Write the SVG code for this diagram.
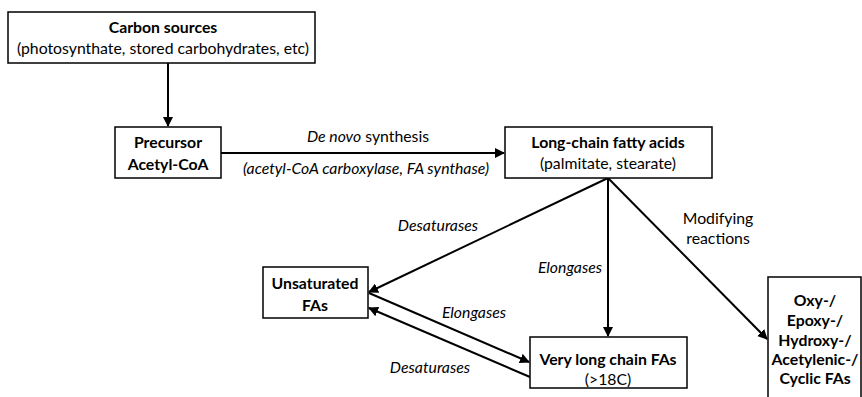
<svg xmlns="http://www.w3.org/2000/svg" width="862" height="397" viewBox="0 0 862 397">
<style>
text{font-family:Lato,"Liberation Sans",sans-serif;font-size:15.8px;fill:#000;text-anchor:middle}
.b{font-weight:bold}
.i{font-style:italic}
.box{fill:#fff;stroke:#000;stroke-width:1.5}
.c{stroke:#000;stroke-width:2;fill:none;marker-end:url(#ah)}
</style>
<defs>
<marker id="ah" viewBox="0 0 10 10" refX="9" refY="5" markerWidth="5" markerHeight="5" orient="auto" markerUnits="strokeWidth">
<path d="M0,0 L10,5 L0,10 z" fill="#000"/>
</marker>
</defs>
<rect width="862" height="397" fill="#fff"/>
<g id="connectors">
<line class="c" x1="168" y1="63" x2="168" y2="126"/>
<line class="c" x1="221" y1="153" x2="504" y2="153"/>
<line class="c" x1="608" y1="178" x2="369" y2="292"/>
<line class="c" x1="608" y1="178" x2="608" y2="336"/>
<line class="c" x1="608" y1="178" x2="767" y2="339"/>
<line class="c" x1="369" y1="293" x2="529" y2="362"/>
<line class="c" x1="530" y1="377" x2="369" y2="308"/>
<text class="i" x="368" y="142"><tspan>De novo</tspan><tspan font-style="normal"> synthesis</tspan></text>
<text class="i" x="366" y="174">(acetyl-CoA carboxylase, FA synthase)</text>
<text class="i" x="438" y="231">Desaturases</text>
<text class="i" x="570" y="273">Elongases</text>
<text x="718" y="224">Modifying</text>
<text x="718" y="244">reactions</text>
<text class="i" x="474" y="318">Elongases</text>
<text class="i" x="430" y="373">Desaturases</text>
</g>
<g id="carbon">
<rect class="box" x="8" y="12" width="307" height="51"/>
<text class="b" x="163" y="33">Carbon sources</text>
<text x="163" y="54">(photosynthate, stored carbohydrates, etc)</text>
</g>
<g id="precursor">
<rect class="box" x="115" y="127" width="106" height="51"/>
<text class="b" x="168" y="148">Precursor</text>
<text class="b" x="168" y="170">Acetyl-CoA</text>
</g>
<g id="lcfa">
<rect class="box" x="505" y="127" width="207" height="51"/>
<text class="b" x="608" y="148">Long-chain fatty acids</text>
<text x="608" y="169">(palmitate, stearate)</text>
</g>
<g id="unsat">
<rect class="box" x="263" y="267" width="105" height="51"/>
<text class="b" x="315" y="289">Unsaturated</text>
<text class="b" x="315" y="311">FAs</text>
</g>
<g id="vlc">
<rect class="box" x="530" y="337" width="157" height="51"/>
<text class="b" x="608" y="365">Very long chain FAs</text>
<text x="608" y="385" font-size="14.5">(&gt;18C)</text>
</g>
<g id="oxy">
<rect class="box" x="768" y="277" width="93" height="130"/>
<text class="b" x="815" y="306">Oxy-/</text>
<text class="b" x="815" y="326">Epoxy-/</text>
<text class="b" x="815" y="346">Hydroxy-/</text>
<text class="b" x="815" y="365">Acetylenic-/</text>
<text class="b" x="815" y="384">Cyclic FAs</text>
</g>
</svg>
